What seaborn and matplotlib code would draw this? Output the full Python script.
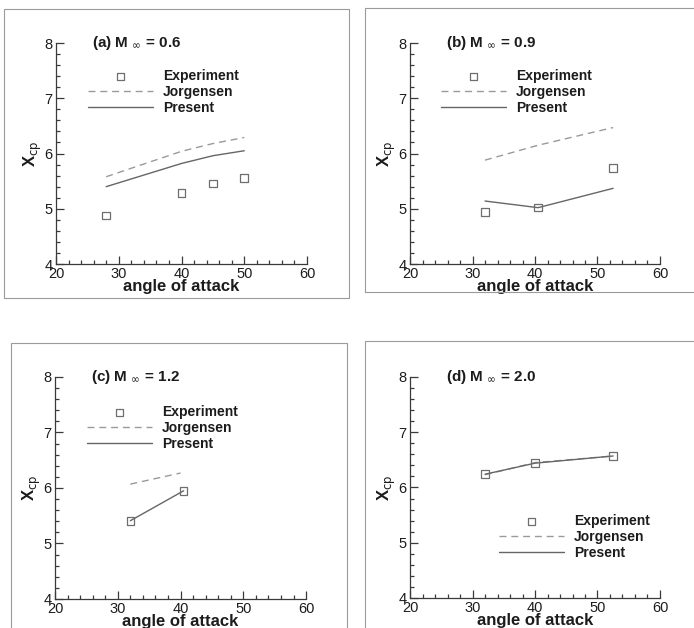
import matplotlib
matplotlib.use("Agg")
import matplotlib.pyplot as plt
import seaborn as sns
from matplotlib.ticker import MultipleLocator, AutoMinorLocator
from matplotlib.patches import Rectangle

# data (x = angle of attack, y = Xcp)
a_exp_x = [28, 40, 45, 50]
a_exp_y = [4.88, 5.29, 5.46, 5.56]
a_jor_x = [28, 40, 45, 50]
a_jor_y = [5.58, 6.04, 6.18, 6.29]
a_pre_x = [28, 40, 45, 50]
a_pre_y = [5.40, 5.82, 5.96, 6.05]

b_exp_x = [32, 40.5, 52.5]
b_exp_y = [4.94, 5.02, 5.74]
b_jor_x = [32, 40.5, 52.5]
b_jor_y = [5.88, 6.15, 6.47]
b_pre_x = [32, 40.5, 52.5]
b_pre_y = [5.14, 5.02, 5.37]

c_exp_x = [32, 40.5]
c_exp_y = [5.41, 5.95]
c_jor_x = [32, 40]
c_jor_y = [6.07, 6.27]
c_pre_x = [32, 40.5]
c_pre_y = [5.41, 5.95]

d_exp_x = [32, 40, 52.5]
d_exp_y = [6.24, 6.44, 6.57]
d_jor_x = [32, 40, 52.5]
d_jor_y = [6.23, 6.45, 6.57]
d_pre_x = [32, 40, 52.5]
d_pre_y = [6.24, 6.44, 6.57]

titles = [r"(a) M $_{\infty}$ = 0.6", r"(b) M $_{\infty}$ = 0.9",
          r"(c) M $_{\infty}$ = 1.2", r"(d) M $_{\infty}$ = 2.0"]

sns.set_style("white")
plt.rcParams['font.family'] = ['Liberation Sans', 'DejaVu Sans']
plt.rcParams['mathtext.fontset'] = 'dejavusans'

TXT = '#1c1c1c'
AX = '#3a3a3a'

fig = plt.figure(figsize=(6.94, 6.28), dpi=100)
fig.patch.set_facecolor('white')

# faint scan frames around each panel (pixels: x0, y0, x1, y1 from top-left)
frames = [(4, 9, 349, 298), (365, 8, 700, 292), (11, 343, 347, 640), (365, 341, 700, 640)]
for x0, y0, x1, y1 in frames:
    fig.patches.append(Rectangle((x0 / 694, 1 - y1 / 628), (x1 - x0) / 694, (y1 - y0) / 628,
                                 transform=fig.transFigure, fill=False,
                                 edgecolor='#9a9a9a', linewidth=0.8))

positions = [(0.0807, 0.5796, 0.3617, 0.3519), (0.5908, 0.5796, 0.3602, 0.3519),
             (0.0793, 0.0462, 0.3617, 0.3535), (0.5908, 0.0478, 0.3602, 0.3519)]
legend_pos = [(0.127, 0.882), (0.124, 0.882), (0.127, 0.874), (0.356, 0.38)]
panels = [
    (a_exp_x, a_exp_y, a_jor_x, a_jor_y, a_pre_x, a_pre_y),
    (b_exp_x, b_exp_y, b_jor_x, b_jor_y, b_pre_x, b_pre_y),
    (c_exp_x, c_exp_y, c_jor_x, c_jor_y, c_pre_x, c_pre_y),
    (d_exp_x, d_exp_y, d_jor_x, d_jor_y, d_pre_x, d_pre_y),
]

for i, (ex, ey, jx, jy, px, py) in enumerate(panels):
    ax = fig.add_axes(positions[i])
    sns.scatterplot(x=ex, y=ey, ax=ax, marker='s', s=30, facecolor='none',
                    edgecolor='#6e6e6e', linewidth=0.9, label='Experiment', zorder=3)
    sns.lineplot(x=jx, y=jy, ax=ax, color='#9a9a9a', linewidth=1.0,
                 linestyle=(0, (5, 3.5)), label='Jorgensen')
    sns.lineplot(x=px, y=py, ax=ax, color='#666666', linewidth=1.0, label='Present')

    ax.set_xlim(20, 60)
    ax.set_ylim(4, 8)
    ax.xaxis.set_major_locator(MultipleLocator(10))
    ax.yaxis.set_major_locator(MultipleLocator(1))
    ax.xaxis.set_minor_locator(AutoMinorLocator(5))
    ax.yaxis.set_minor_locator(AutoMinorLocator(5))
    ax.tick_params(which='both', direction='in', left=True, bottom=True,
                   top=False, right=False, color=AX, width=0.9)
    ax.tick_params(which='major', length=6, labelsize=10.5, labelcolor=TXT, pad=2.5)
    ax.tick_params(which='minor', length=3)
    for side in ['top', 'right']:
        ax.spines[side].set_visible(False)
    for side in ['left', 'bottom']:
        ax.spines[side].set_color(AX)
        ax.spines[side].set_linewidth(0.9)

    ax.set_xlabel('angle of attack', fontsize=12, fontweight='bold', color=TXT, labelpad=-2)
    ax.set_ylabel(r'X$_{\rm cp}$', fontsize=12, fontweight='bold', color=TXT, labelpad=0)
    ax.text(0.145, 1.0, titles[i], transform=ax.transAxes, ha='left', va='center',
            fontsize=11, fontweight='bold', color=TXT)

    leg = ax.legend(loc='upper left', bbox_to_anchor=legend_pos[i], frameon=False,
                    borderpad=0, borderaxespad=0, handlelength=4.7, handletextpad=0.7,
                    labelspacing=0.15, prop={'size': 10, 'weight': 'bold'})
    for t in leg.get_texts():
        t.set_color(TXT)

fig.savefig('out.png', dpi=100, facecolor='white')
